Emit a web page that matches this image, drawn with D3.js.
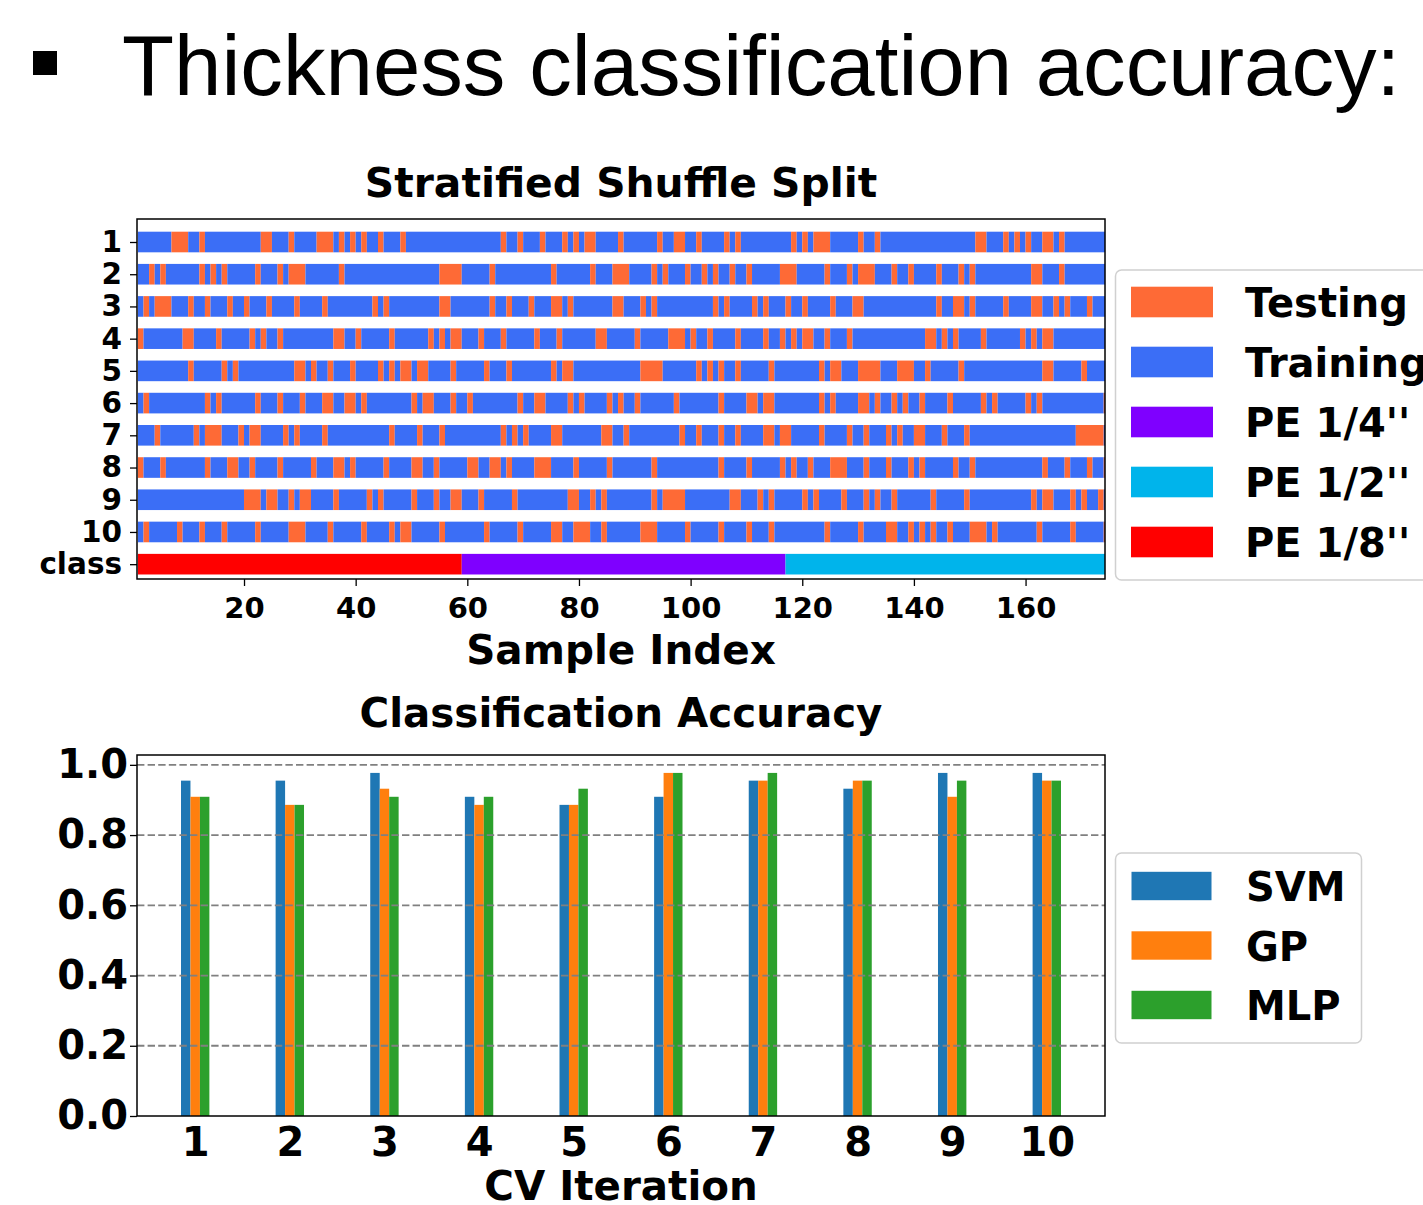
<!DOCTYPE html>
<html>
<head>
  <meta charset="utf-8">
  <title>Thickness classification accuracy</title>
  <script src="https://d3js.org/d3.v7.min.js"></script>
  <style>
    body { margin: 0; background: #fff; overflow: hidden; }
    svg { display: block; }
    .lbl { font-family: "DejaVu Sans", sans-serif; font-weight: bold; fill: #000; }
    .axis path, .axis line { stroke: #000; }
    .axis text { font-family: "DejaVu Sans", sans-serif; font-weight: bold; fill: #000; }
  </style>
</head>
<body>
<svg width="1423" height="1205"></svg>
<script>
// ---- data: stratified shuffle split (1-based sample index of testing samples per CV row)
const sampleCount = 174;
const test1 = [7,8,9,12,23,24,28,33,34,35,37,39,41,44,48,66,69,73,77,79,81,82,87,94,97,98,101,106,108,118,120,122,123,124,130,133,151,152,156,158,160,163,164,166];
const test2 = [3,5,12,14,16,22,26,28,29,30,37,55,56,57,58,64,75,82,86,87,88,93,95,99,102,104,107,110,116,117,118,124,128,130,131,132,136,139,144,148,150,161,162,166];
const test3 = [2,4,5,6,10,13,17,20,24,29,34,43,45,55,56,64,67,71,75,76,78,86,87,91,93,104,106,111,113,117,120,125,129,130,144,147,148,150,156,161,162,165,167,171];
const test4 = [1,9,10,15,21,23,26,36,37,40,46,53,55,57,58,62,66,72,76,83,84,90,96,97,98,100,103,108,113,116,118,120,121,124,128,142,143,145,147,152,159,161,163,164];
const test5 = [10,16,18,29,30,32,35,39,44,46,48,49,51,52,57,63,67,75,77,78,91,92,93,94,101,103,105,108,114,123,125,126,130,131,132,133,137,138,139,142,148,163,164,170];
const test6 = [2,13,15,22,26,30,34,35,38,39,41,50,52,53,57,60,69,72,73,78,80,85,87,90,97,105,110,111,113,114,123,125,130,131,133,136,138,141,146,152,154,160,162,174];
const test7 = [4,11,13,14,15,19,21,22,27,29,34,46,51,55,66,68,70,75,76,84,85,88,98,101,105,108,113,114,116,117,123,128,131,135,137,140,141,145,149,169,170,171,172,173];
const test8 = [1,5,13,17,18,21,26,32,36,37,39,45,50,51,54,60,61,64,65,67,72,73,74,79,85,93,105,110,116,118,121,125,126,127,131,135,139,141,147,150,163,167,171,174];
const test9 = [20,21,22,24,25,28,30,31,36,42,44,50,54,57,58,62,68,78,79,82,84,93,95,96,97,98,107,108,112,114,120,122,127,131,133,136,143,149,161,163,164,168,170,173];
const test10 = [2,8,12,16,22,28,29,30,35,41,46,48,49,55,63,69,75,76,79,80,81,84,91,92,93,99,105,110,114,124,130,135,136,139,141,143,146,150,151,152,154,162,168,174];
const testRows = [test1, test2, test3, test4, test5, test6, test7, test8, test9, test10];
const rowLabels = ["1","2","3","4","5","6","7","8","9","10","class"];
const classBlocks = [
  { name: "PE 1/8''", first: 1, last: 58 },
  { name: "PE 1/4''", first: 59, last: 116 },
  { name: "PE 1/2''", first: 117, last: 174 }
];
const sampleTicks = [20, 40, 60, 80, 100, 120, 140, 160];
const splitLegend = ["Testing", "Training", "PE 1/4''", "PE 1/2''", "PE 1/8''"];

// ---- data: classification accuracy per CV iteration
const iterations = [1, 2, 3, 4, 5, 6, 7, 8, 9, 10];
const models = ["SVM", "GP", "MLP"];
const svmAcc = [0.955, 0.955, 0.977, 0.909, 0.886, 0.909, 0.955, 0.932, 0.977, 0.977];
const gpAcc  = [0.909, 0.886, 0.932, 0.886, 0.886, 0.977, 0.955, 0.955, 0.909, 0.955];
const mlpAcc = [0.909, 0.886, 0.909, 0.909, 0.932, 0.977, 0.977, 0.955, 0.955, 0.955];
const accTicks = [0, 0.2, 0.4, 0.6, 0.8, 1.0];

// ---- colours
const splitColor = { "Testing": "#fe6a36", "Training": "#3b6ef6",
  "PE 1/4''": "#7f00ff", "PE 1/2''": "#00b4eb", "PE 1/8''": "#ff0000" };
const modelColor = { SVM: "#1f77b4", GP: "#ff7f0e", MLP: "#2ca02c" };

const svg = d3.select("svg");
const L = 137, R = 1105;

// ---- header
svg.append("rect").attr("x", 33).attr("y", 51).attr("width", 24).attr("height", 24).attr("fill", "#000");
svg.append("text").attr("x", 122).attr("y", 95)
  .style("font-family", "'Liberation Sans', Arial, sans-serif").style("font-size", "85.2px")
  .text("Thickness classification accuracy:");

// ================= top chart =================
const T1 = 219, B1 = 579;
const x1 = d3.scaleLinear().domain([0.83, 174.23]).range([L, R]);
const yRow = d3.scaleLinear().domain([-0.714, 10.46]).range([T1, B1]);
const barH = yRow(0.64) - yRow(0);

svg.append("clipPath").attr("id", "clipTop").append("rect")
  .attr("x", L).attr("y", T1).attr("width", R - L).attr("height", B1 - T1);
const gTop = svg.append("g").attr("clip-path", "url(#clipTop)");

// split runs per row
function runs(testSet) {
  const s = new Set(testSet);
  const out = [];
  let start = 1;
  for (let k = 2; k <= sampleCount + 1; k++) {
    if (k > sampleCount || s.has(k) !== s.has(start)) {
      out.push({ from: start, to: k, test: s.has(start) });
      start = k;
    }
  }
  return out;
}

testRows.forEach((row, r) => {
  gTop.selectAll(null).data(runs(row)).enter().append("rect")
    .attr("x", d => x1(d.from))
    .attr("width", d => x1(d.to) - x1(d.from))
    .attr("y", yRow(r) - barH / 2)
    .attr("height", barH)
    .attr("fill", d => d.test ? splitColor["Testing"] : splitColor["Training"]);
});

gTop.selectAll(null).data(classBlocks).enter().append("rect")
  .attr("x", d => x1(d.first))
  .attr("width", d => x1(d.last + 1) - x1(d.first))
  .attr("y", yRow(10) - barH / 2)
  .attr("height", barH)
  .attr("fill", d => splitColor[d.name]);

// frame + axes
svg.append("rect").attr("x", L).attr("y", T1).attr("width", R - L).attr("height", B1 - T1)
  .attr("fill", "none").attr("stroke", "#000").attr("stroke-width", 1.5);

const yAx1 = svg.append("g").attr("class", "axis").attr("transform", `translate(${L},0)`)
  .call(d3.axisLeft(yRow).tickValues(d3.range(rowLabels.length))
    .tickFormat(i => rowLabels[i]).tickSize(7).tickPadding(8));
yAx1.select(".domain").remove();
yAx1.selectAll("line").attr("stroke-width", 1.3);
yAx1.selectAll("text").style("font-size", "29.5px");

const xAx1 = svg.append("g").attr("class", "axis").attr("transform", `translate(0,${B1})`)
  .call(d3.axisBottom(x1).tickValues(sampleTicks).tickSize(7).tickPadding(11));
xAx1.select(".domain").remove();
xAx1.selectAll("line").attr("stroke-width", 1.3);
xAx1.selectAll("text").style("font-size", "29px");

svg.append("text").attr("class", "lbl").attr("x", (L + R) / 2).attr("y", 197)
  .attr("text-anchor", "middle").style("font-size", "40.8px").text("Stratified Shuffle Split");
svg.append("text").attr("class", "lbl").attr("x", (L + R) / 2).attr("y", 664)
  .attr("text-anchor", "middle").style("font-size", "40.5px").text("Sample Index");

// legend (runs off the right edge like the reference)
const lg1 = svg.append("g");
lg1.append("rect").attr("x", 1115.5).attr("y", 270).attr("width", 340).attr("height", 310)
  .attr("rx", 6).attr("fill", "#fff").attr("stroke", "#d0d0d0").attr("stroke-width", 1.5);
splitLegend.forEach((name, i) => {
  const cy = 302 + i * 60;
  lg1.append("rect").attr("x", 1131).attr("y", cy - 15.3).attr("width", 82).attr("height", 30.6)
    .attr("fill", splitColor[name]);
  lg1.append("text").attr("class", "lbl").attr("x", 1245).attr("y", cy + 15)
    .style("font-size", "40px").text(name);
});

// ================= bottom chart =================
const T2 = 755, B2 = 1116;
const x2 = d3.scaleLinear().domain([0.385, 10.615]).range([L, R]);
const y2 = d3.scaleLinear().domain([0, 1.028]).range([B2, T2]);
const bw = x2(0.1) - x2(0);
const series = [svmAcc, gpAcc, mlpAcc];

series.forEach((vals, m) => {
  svg.append("g").selectAll("rect").data(iterations).enter().append("rect")
    .attr("x", (it) => x2(it + (m - 1) * 0.1 - 0.05))
    .attr("width", bw)
    .attr("y", (it, i) => y2(vals[i]))
    .attr("height", (it, i) => B2 - y2(vals[i]))
    .attr("fill", modelColor[models[m]]);
});

// dashed grid (drawn above bars, as matplotlib does)
svg.append("g").selectAll("line").data(accTicks.filter(d => d > 0)).enter().append("line")
  .attr("x1", L).attr("x2", R)
  .attr("y1", d => y2(d)).attr("y2", d => y2(d))
  .attr("stroke", "#808080").attr("stroke-width", 1.8).attr("stroke-dasharray", "7.4,3.2");

svg.append("rect").attr("x", L).attr("y", T2).attr("width", R - L).attr("height", B2 - T2)
  .attr("fill", "none").attr("stroke", "#000").attr("stroke-width", 1.5);

const yAx2 = svg.append("g").attr("class", "axis").attr("transform", `translate(${L},0)`)
  .call(d3.axisLeft(y2).tickValues(accTicks).tickFormat(d3.format(".1f")).tickSize(7).tickPadding(2));
yAx2.select(".domain").remove();
yAx2.selectAll("line").attr("stroke-width", 1.3);
yAx2.selectAll("text").style("font-size", "40px");

const xAx2 = svg.append("g").attr("class", "axis").attr("transform", `translate(0,${B2})`)
  .call(d3.axisBottom(x2).tickValues(iterations).tickFormat(d3.format("d")).tickSize(0).tickPadding(12));
xAx2.select(".domain").remove();
xAx2.selectAll("text").style("font-size", "40px");

svg.append("text").attr("class", "lbl").attr("x", (L + R) / 2).attr("y", 727)
  .attr("text-anchor", "middle").style("font-size", "40.4px").text("Classification Accuracy");
svg.append("text").attr("class", "lbl").attr("x", (L + R) / 2).attr("y", 1200)
  .attr("text-anchor", "middle").style("font-size", "40.4px").text("CV Iteration");

const lg2 = svg.append("g");
lg2.append("rect").attr("x", 1115.5).attr("y", 853).attr("width", 246).attr("height", 190)
  .attr("rx", 6).attr("fill", "#fff").attr("stroke", "#d0d0d0").attr("stroke-width", 1.5);
models.forEach((name, i) => {
  const cy = 886 + i * 59.5;
  lg2.append("rect").attr("x", 1131.5).attr("y", cy - 14.2).attr("width", 80).attr("height", 28.4)
    .attr("fill", modelColor[name]);
  lg2.append("text").attr("class", "lbl").attr("x", 1246).attr("y", cy + 15)
    .style("font-size", "40px").text(name);
});
</script>
</body>
</html>
